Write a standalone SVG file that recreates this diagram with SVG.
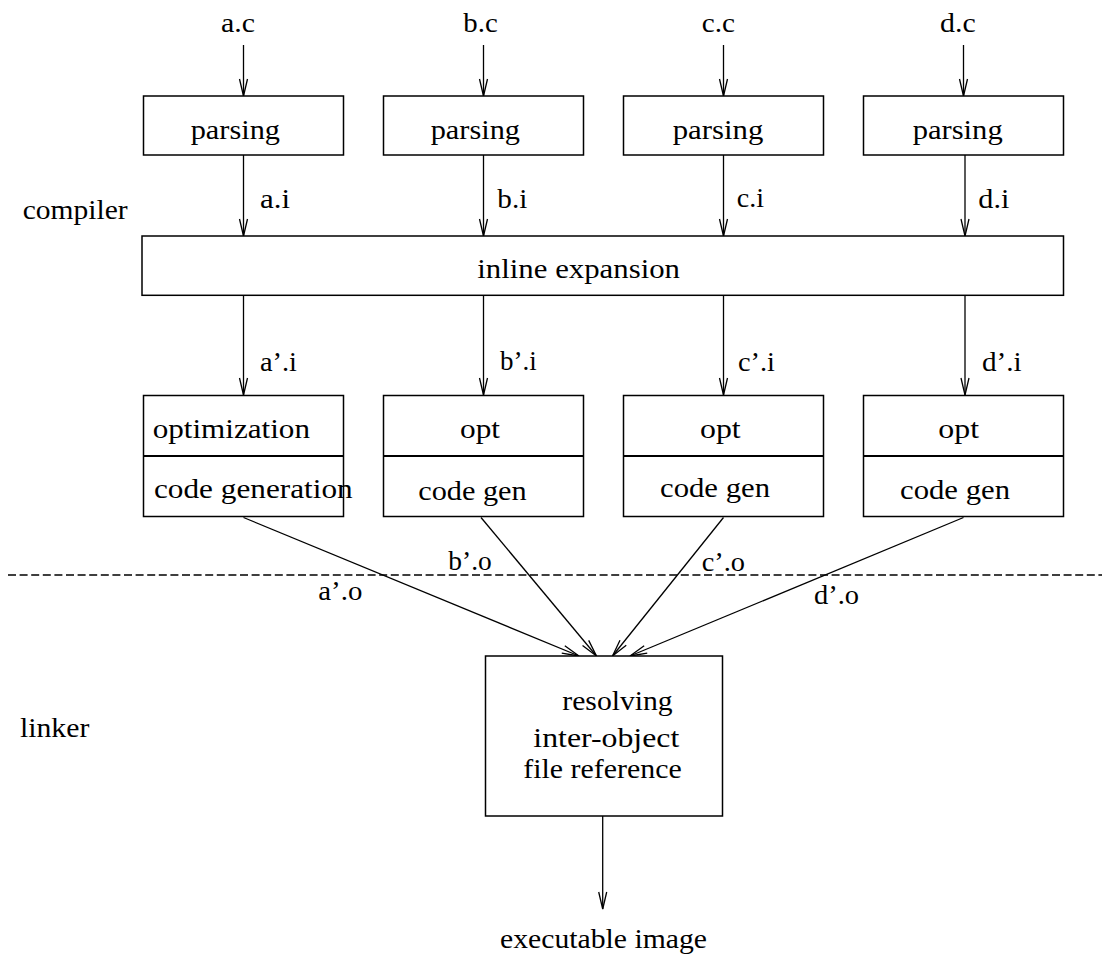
<svg xmlns="http://www.w3.org/2000/svg" width="1102" height="959" viewBox="0 0 1102 959">
<style>
text{font-family:"Liberation Serif","Times New Roman",serif;font-size:28px;fill:#000}
.box{fill:#fff;stroke:#000;stroke-width:1.5}
.div{stroke:#000;stroke-width:2.2}
.c{stroke:#000;stroke-width:1.3;fill:none}
.dash{stroke:#000;stroke-width:1.3;stroke-dasharray:8 3.6;fill:none}
</style>
<defs>
<marker id="arr" markerUnits="userSpaceOnUse" markerWidth="20" markerHeight="12" viewBox="-18 -6 20 12" refX="0" refY="0" orient="auto">
<path d="M-17,-4 L0,0 L-17,4" fill="none" stroke="#000" stroke-width="1.3"/>
</marker>
</defs>
<rect width="1102" height="959" fill="#fff"/>
<g id="connectors">
<line class="c" x1="243.5" y1="45" x2="243.5" y2="96" marker-end="url(#arr)"/>
<line class="c" x1="483.5" y1="45" x2="483.5" y2="96" marker-end="url(#arr)"/>
<line class="c" x1="723.5" y1="45" x2="723.5" y2="96" marker-end="url(#arr)"/>
<line class="c" x1="963.5" y1="45" x2="963.5" y2="96" marker-end="url(#arr)"/>
<line class="c" x1="243.5" y1="155" x2="243.5" y2="236" marker-end="url(#arr)"/>
<line class="c" x1="483.5" y1="155" x2="483.5" y2="236" marker-end="url(#arr)"/>
<line class="c" x1="723.5" y1="155" x2="723.5" y2="236" marker-end="url(#arr)"/>
<line class="c" x1="965" y1="155" x2="965" y2="236" marker-end="url(#arr)"/>
<line class="c" x1="243.5" y1="295" x2="243.5" y2="395" marker-end="url(#arr)"/>
<line class="c" x1="483.5" y1="295" x2="483.5" y2="395" marker-end="url(#arr)"/>
<line class="c" x1="723.5" y1="295" x2="723.5" y2="395" marker-end="url(#arr)"/>
<line class="c" x1="965" y1="295" x2="965" y2="395" marker-end="url(#arr)"/>
<line class="c" x1="243.5" y1="517.5" x2="579" y2="656" marker-end="url(#arr)"/>
<line class="c" x1="481" y1="517.5" x2="596.5" y2="656" marker-end="url(#arr)"/>
<line class="c" x1="723.5" y1="517.5" x2="612.5" y2="656" marker-end="url(#arr)"/>
<line class="c" x1="963.5" y1="517.5" x2="630" y2="656" marker-end="url(#arr)"/>
<line class="c" x1="602.7" y1="816" x2="602.7" y2="909" marker-end="url(#arr)"/>
<line class="dash" x1="8" y1="575" x2="1102" y2="575"/>
</g>
<g id="labels">
<text x="221" y="32" textLength="34" lengthAdjust="spacingAndGlyphs">a.c</text>
<text x="463.3" y="32" textLength="34.4" lengthAdjust="spacingAndGlyphs">b.c</text>
<text x="701.7" y="32" textLength="33.3" lengthAdjust="spacingAndGlyphs">c.c</text>
<text x="940" y="32" textLength="35.7" lengthAdjust="spacingAndGlyphs">d.c</text>
<text x="260" y="208" textLength="30" lengthAdjust="spacingAndGlyphs">a.i</text>
<text x="497.3" y="208" textLength="30" lengthAdjust="spacingAndGlyphs">b.i</text>
<text x="736.7" y="207" textLength="27.3" lengthAdjust="spacingAndGlyphs">c.i</text>
<text x="978.3" y="208" textLength="31" lengthAdjust="spacingAndGlyphs">d.i</text>
<text x="260" y="370.5" textLength="37" lengthAdjust="spacingAndGlyphs">a’.i</text>
<text x="500" y="369.5" textLength="36.7" lengthAdjust="spacingAndGlyphs">b’.i</text>
<text x="738" y="370.5" textLength="37" lengthAdjust="spacingAndGlyphs">c’.i</text>
<text x="982" y="370.5" textLength="39.7" lengthAdjust="spacingAndGlyphs">d’.i</text>
<text x="318.3" y="600" textLength="44" lengthAdjust="spacingAndGlyphs">a’.o</text>
<text x="448.3" y="570" textLength="43.4" lengthAdjust="spacingAndGlyphs">b’.o</text>
<text x="701.7" y="571" textLength="43.3" lengthAdjust="spacingAndGlyphs">c’.o</text>
<text x="814" y="604" textLength="45" lengthAdjust="spacingAndGlyphs">d’.o</text>
<text x="22.7" y="219" textLength="105" lengthAdjust="spacingAndGlyphs">compiler</text>
<text x="20" y="736.7" textLength="69.3" lengthAdjust="spacingAndGlyphs">linker</text>
<text x="500" y="948" textLength="207" lengthAdjust="spacingAndGlyphs">executable image</text>
</g>
<g id="parse-a"><rect class="box" x="143.5" y="96" width="200" height="59"/><text x="190.7" y="139.3" textLength="89.3" lengthAdjust="spacingAndGlyphs">parsing</text></g>
<g id="parse-b"><rect class="box" x="383.5" y="96" width="200" height="59"/><text x="430.7" y="139.3" textLength="89.3" lengthAdjust="spacingAndGlyphs">parsing</text></g>
<g id="parse-c"><rect class="box" x="623.5" y="96" width="200" height="59"/><text x="672.7" y="139.3" textLength="90.6" lengthAdjust="spacingAndGlyphs">parsing</text></g>
<g id="parse-d"><rect class="box" x="863.5" y="96" width="200" height="59"/><text x="912.7" y="139.3" textLength="90" lengthAdjust="spacingAndGlyphs">parsing</text></g>
<g id="inline"><rect class="box" x="142" y="236" width="921.5" height="59.3"/><text x="477.3" y="278.3" textLength="202.7" lengthAdjust="spacingAndGlyphs">inline expansion</text></g>
<g id="opt-a"><rect class="box" x="143.5" y="395.5" width="200" height="121"/><line class="div" x1="143.5" y1="456" x2="343.5" y2="456"/><text x="152.7" y="438" textLength="157.3" lengthAdjust="spacingAndGlyphs">optimization</text><text x="154" y="498" textLength="198.7" lengthAdjust="spacingAndGlyphs">code generation</text></g>
<g id="opt-b"><rect class="box" x="383.5" y="395.5" width="200" height="121"/><line class="div" x1="383.5" y1="456" x2="583.5" y2="456"/><text x="460" y="437.7" textLength="40" lengthAdjust="spacingAndGlyphs">opt</text><text x="418.3" y="500" textLength="108.4" lengthAdjust="spacingAndGlyphs">code gen</text></g>
<g id="opt-c"><rect class="box" x="623.5" y="395.5" width="200" height="121"/><line class="div" x1="623.5" y1="456" x2="823.5" y2="456"/><text x="700" y="438" textLength="40.7" lengthAdjust="spacingAndGlyphs">opt</text><text x="660" y="497" textLength="110" lengthAdjust="spacingAndGlyphs">code gen</text></g>
<g id="opt-d"><rect class="box" x="863.5" y="395.5" width="200" height="121"/><line class="div" x1="863.5" y1="456" x2="1063.5" y2="456"/><text x="938.3" y="438" textLength="40.7" lengthAdjust="spacingAndGlyphs">opt</text><text x="900" y="499" textLength="110" lengthAdjust="spacingAndGlyphs">code gen</text></g>
<g id="linker-box"><rect class="box" x="485.5" y="656" width="237" height="160"/><text x="562.3" y="710" textLength="110.4" lengthAdjust="spacingAndGlyphs">resolving</text><text x="533.3" y="747" textLength="146" lengthAdjust="spacingAndGlyphs">inter-object</text><text x="523.3" y="778" textLength="158.4" lengthAdjust="spacingAndGlyphs">file reference</text></g>
</svg>
